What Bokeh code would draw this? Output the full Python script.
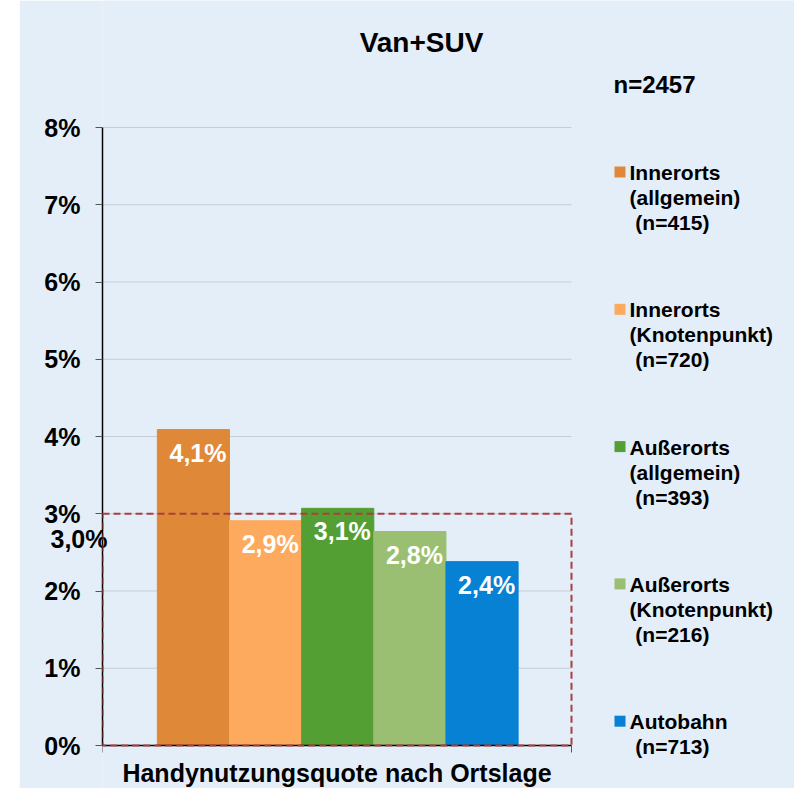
from bokeh.plotting import figure
from bokeh.layouts import row
from bokeh.models import (ColumnDataSource, Range1d, FixedTicker, BoxAnnotation, LinearAxis,
                          Spacer, CustomJSTickFormatter)
from bokeh.core.properties import value
from bokeh.embed import file_html
from bokeh.resources import INLINE

# ---------------- data ----------------
categories = ["Innerorts (allgemein)", "Innerorts (Knotenpunkt)", "Außerorts (allgemein)",
              "Außerorts (Knotenpunkt)", "Autobahn"]
legend_lines = [["Innerorts", "(allgemein)", "\u00a0(n=415)"],
                ["Innerorts", "(Knotenpunkt)", "\u00a0(n=720)"],
                ["Außerorts", "(allgemein)", "\u00a0(n=393)"],
                ["Außerorts", "(Knotenpunkt)", "\u00a0(n=216)"],
                ["Autobahn", "\u00a0(n=713)"]]
values = [4.09, 2.91, 3.07, 2.77, 2.38]
value_labels = ["4,1%", "2,9%", "3,1%", "2,8%", "2,4%"]
colors = ["#DF8938", "#FEAA5E", "#549F33", "#9BBF72", "#0681D4"]
y_ticks = [0, 1, 2, 3, 4, 5, 6, 7, 8]
y_tick_labels = ["0%", "1%", "2%", "3%", "4%", "5%", "6%", "7%", "8%"]
ref_value = 3.0
ref_label = "3,0%"
title_text = "Van+SUV"
n_total_text = "n=2457"
x_axis_title = "Handynutzungsquote nach Ortslage"

FONT = "Liberation Sans"
BG = "#E3EEF9"

# ---------------- layout geometry (picture pixels) ----------------
TOTAL_W, H = 794, 788
LEFT_GAP = 19                     # white strip left of the panel
AX_L, AX_R, AX_T, AX_B = 102, 571, 127, 745   # axes box
X0, X1 = -0.76, 5.74
Y0, Y1 = 0, 8
PPX = (AX_R - AX_L) / (X1 - X0)
PPY = (AX_B - AX_T) / (Y1 - Y0)


def dx(px):
    return X0 + (px - AX_L) / PPX


def dy(py):
    return Y0 + (AX_B - py) / PPY


W = TOTAL_W - LEFT_GAP
p = figure(width=W, height=H, output_backend="svg", toolbar_location=None,
           x_range=Range1d(X0, dx(TOTAL_W)), y_range=Range1d(dy(H), dy(0)),
           min_border_left=AX_L - LEFT_GAP, min_border_right=0,
           min_border_top=0, min_border_bottom=0,
           background_fill_color=BG, border_fill_color=BG, outline_line_color=None)

# grid lines (only inside the axes box)
p.xgrid.grid_line_color = None
p.ygrid.grid_line_color = None
gy = [t for t in y_ticks if t > 0]
p.segment(x0=[X0] * len(gy), x1=[X1] * len(gy), y0=gy, y1=gy, line_color="#C8CCD2",
          line_width=1)

xs = [i + 0.5 for i in range(len(values))]
src = ColumnDataSource(dict(x=xs, top=values, color=colors, lab=value_labels,
                            lx=[x + 0.5 for x in xs]))
p.vbar(x="x", top="top", bottom=0, width=1.0, color="color", source=src)
p.text(x="lx", y="top", text="lab", source=src, text_align="right", text_baseline="top",
       x_offset=-3, y_offset=9, text_color="white", text_font=value(FONT),
       text_font_style="bold", text_font_size="25px")

# reference box
p.add_layout(BoxAnnotation(left=X0, right=X1, bottom=0, top=ref_value, fill_alpha=0,
                           line_color="#AC3F3C", line_alpha=1, line_width=2,
                           line_dash="7 4"))

# y axis
p.yaxis.ticker = FixedTicker(ticks=y_ticks)
p.yaxis.bounds = (Y0, Y1)
p.yaxis.major_label_overrides = {t: l for t, l in zip(y_ticks, y_tick_labels)}
p.yaxis.axis_line_color = "black"
p.yaxis.axis_line_width = 1.5
p.yaxis.major_tick_line_color = "#555555"
p.yaxis.major_tick_out = 7
p.yaxis.major_tick_in = 0
p.yaxis.minor_tick_line_color = None
p.yaxis.major_label_standoff = 15
p.yaxis.major_label_text_font = FONT
p.yaxis.major_label_text_font_style = "bold"
p.yaxis.major_label_text_font_size = "25px"
p.yaxis.major_label_text_color = "black"

# x axis: drawn at y = 0, only across the axes box (no tick labels)
p.xaxis.fixed_location = Y0
p.xaxis.ticker = FixedTicker(ticks=[X0, X1])
p.xaxis.bounds = (X0, X1)
p.xaxis.formatter = CustomJSTickFormatter(code="return ''")
p.xaxis.major_label_standoff = 0
p.xaxis.axis_line_color = "black"
p.xaxis.axis_line_width = 1.5
p.xaxis.major_tick_line_color = "#555555"
p.xaxis.major_tick_out = 7
p.xaxis.major_tick_in = 0
p.xaxis.minor_tick_line_color = None
p.text(x=[(X0 + X1) / 2], y=[dy(772)], text=[x_axis_title], text_align="center",
       text_baseline="middle", text_font=value(FONT), text_font_style="bold",
       text_font_size="25px", text_color="black")

# "3,0%" reference value label: an outer left axis whose single label is pulled
# back over the axes box edge
ref_tick = ref_value - 25 / PPY
ref_axis = LinearAxis(ticker=FixedTicker(ticks=[ref_tick]),
                      major_label_overrides={ref_tick: ref_label},
                      axis_line_color=None, major_tick_line_color=None,
                      minor_tick_line_color=None, major_tick_out=0, major_tick_in=0,
                      major_label_standoff=-66,
                      major_label_text_font=FONT, major_label_text_font_style="bold",
                      major_label_text_font_size="25px", major_label_text_color="black")
p.add_layout(ref_axis, "left")

# title & total n
p.text(x=[dx(421)], y=[dy(42)], text=[title_text], text_align="center",
       text_baseline="middle", text_font=value(FONT), text_font_style="bold",
       text_font_size="28px", text_color="black")
p.text(x=[dx(613)], y=[dy(84)], text=[n_total_text], text_align="left",
       text_baseline="middle", text_font=value(FONT), text_font_style="bold",
       text_font_size="24px", text_color="black")

# legend (manual)
LEG_Y0, LEG_STEP, LINE_H = 172, 137.3, 25
sq_x, sq_y, tx, ty, tt = [], [], [], [], []
for i, lines in enumerate(legend_lines):
    cy = LEG_Y0 + i * LEG_STEP
    sq_x.append(dx(619.5))
    sq_y.append(dy(cy - 0.5))
    for j, t in enumerate(lines):
        tx.append(dx(629))
        ty.append(dy(cy + j * LINE_H))
        tt.append(t)
p.scatter(x=sq_x, y=sq_y, marker="square", size=11, fill_color=colors, line_color=None)
p.text(x=tx, y=ty, text=tt, text_align="left", text_baseline="middle",
       text_font=value(FONT), text_font_style="bold", text_font_size="21px",
       text_color="black")

layout = row(Spacer(width=LEFT_GAP, height=H), p)
open("out.html", "w").write(file_html(layout, INLINE))
